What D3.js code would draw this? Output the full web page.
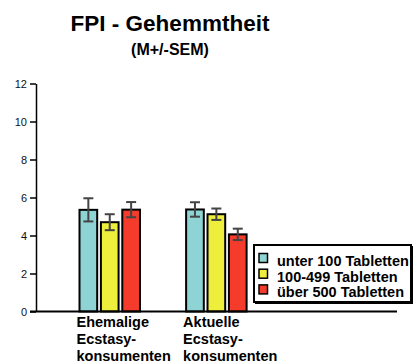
<!DOCTYPE html>
<html>
<head>
<meta charset="utf-8">
<script src="https://cdn.jsdelivr.net/npm/d3@7"></script>
<style>
  html, body { margin: 0; padding: 0; background: #fff; }
  svg { display: block; font-family: "Liberation Sans", Arial, sans-serif; }
</style>
</head>
<body>
<svg id="chart" width="413" height="363"></svg>
<script>
// Group labels (each split across lines)
const groups = ["Ehemalige", "Aktuelle"];
const groupLines = [
  ["Ehemalige", "Ecstasy-", "konsumenten"],
  ["Aktuelle", "Ecstasy-", "konsumenten"]
];
// Series (tablet consumption)
const series = ["unter 100 Tabletten", "100-499 Tabletten", "über 500 Tabletten"];
const colors = ["#8fd4d4", "#eeee3c", "#f53c2c"];
// Means per group, in series order
const meansEhemalige = [5.35, 4.70, 5.36];
const meansAktuelle  = [5.37, 5.12, 4.06];
// Standard errors per group
const semEhemalige = [0.61, 0.42, 0.40];
const semAktuelle  = [0.38, 0.30, 0.30];
// Y axis ticks
const yTicks = [0, 2, 4, 6, 8, 10, 12];

const means = [meansEhemalige, meansAktuelle];
const sems = [semEhemalige, semAktuelle];

const svg = d3.select("#chart");

const y = d3.scaleLinear().domain([0, 12]).range([311.5, 83.5]);
const x0 = d3.scaleBand().domain(groups).range([78.5, 247.6]).paddingInner(0.414).paddingOuter(0);
const x1 = d3.scaleBand().domain(series).range([0, x0.bandwidth()]).paddingInner(0.08).paddingOuter(0);

// Titles
svg.append("text").attr("x", 170).attr("y", 31).attr("text-anchor", "middle")
  .attr("font-size", 22.5).attr("font-weight", "bold").text("FPI - Gehemmtheit");
svg.append("text").attr("x", 170).attr("y", 55).attr("text-anchor", "middle")
  .attr("font-size", 16).attr("font-weight", "bold").text("(M+/-SEM)");

// Y axis
const yAxis = d3.axisLeft(y).tickValues(yTicks).tickSize(6).tickPadding(3).tickSizeOuter(0);
const gy = svg.append("g").attr("transform", "translate(36,0)").call(yAxis);
gy.select(".domain").attr("stroke", "#000").attr("stroke-width", 1.5);
gy.selectAll(".tick line").attr("stroke", "#000").attr("stroke-width", 1.5);
gy.selectAll(".tick text").attr("font-size", 11).attr("fill", "#111")
  .attr("font-family", "Liberation Sans, Arial, sans-serif");

// Bars
const gGroups = svg.selectAll("g.grp").data(groups).enter().append("g")
  .attr("class", "grp")
  .attr("transform", d => `translate(${x0(d)},0)`);

gGroups.each(function(g, gi) {
  const sel = d3.select(this);
  series.forEach((s, si) => {
    const v = means[gi][si];
    const bx = x1(s), bw = x1.bandwidth();
    sel.append("rect")
      .attr("x", bx + 1).attr("y", y(v))
      .attr("width", bw - 2).attr("height", y(0) - y(v))
      .attr("fill", colors[si]).attr("stroke", "#000").attr("stroke-width", 2);
  });
  series.forEach((s, si) => {
    const v = means[gi][si], e = sems[gi][si];
    const cx = x1(s) + x1.bandwidth() / 2;
    const eb = sel.append("g").attr("stroke", "#444").attr("stroke-width", 2);
    eb.append("line").attr("x1", cx).attr("x2", cx).attr("y1", y(v + e)).attr("y2", y(v - e));
    eb.append("line").attr("x1", cx - 5).attr("x2", cx + 5).attr("y1", y(v + e)).attr("y2", y(v + e));
    eb.append("line").attr("x1", cx - 5).attr("x2", cx + 5).attr("y1", y(v - e)).attr("y2", y(v - e));
  });
});

// Baseline
svg.append("line").attr("x1", 30).attr("x2", 397).attr("y1", y(0)).attr("y2", y(0))
  .attr("stroke", "#000").attr("stroke-width", 2);

// Group labels
groups.forEach((g, gi) => {
  const t = svg.append("text").attr("x", x0(g) - 2).attr("y", 327)
    .attr("font-size", 14.5).attr("font-weight", "bold");
  groupLines[gi].forEach((line, li) => {
    t.append("tspan").attr("x", x0(g) - 2).attr("dy", li === 0 ? 0 : 17).text(line);
  });
});

// Legend
const lg = svg.append("g").attr("transform", "translate(254,245)");
lg.append("rect").attr("x", 1).attr("y", 1).attr("width", 158).attr("height", 58).attr("fill", "#000");
lg.append("rect").attr("x", 0).attr("y", 0).attr("width", 157).attr("height", 57)
  .attr("fill", "#fff").attr("stroke", "#000").attr("stroke-width", 2);
series.forEach((s, si) => {
  const base = 21 + si * 15.7;
  lg.append("rect").attr("x", 5).attr("y", base - 12.5).attr("width", 8.5).attr("height", 9)
    .attr("fill", colors[si]).attr("stroke", "#000").attr("stroke-width", 1.5);
  lg.append("text").attr("x", 23).attr("y", base).attr("font-size", 14.5).attr("font-weight", "bold").text(s);
});
</script>
</body>
</html>
